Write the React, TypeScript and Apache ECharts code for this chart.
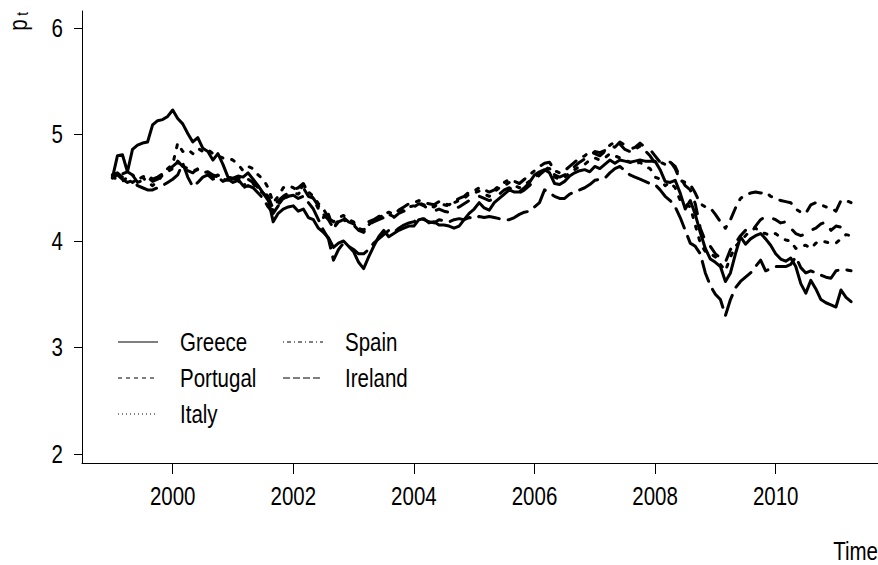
import { useEffect, useRef } from "react";
import * as echarts from "echarts";

const startYear = 1999;
const seriesNames = ["Greece", "Portugal", "Italy", "Spain", "Ireland"];
const xTicks = [2000, 2002, 2004, 2006, 2008, 2010];
const yTicks = [2, 3, 4, 5, 6];

// monthly values, Jan 1999 .. Apr 2011
const greece = [
  4.59, 4.80, 4.81, 4.65, 4.86, 4.90, 4.92, 4.93, 5.09, 5.13, 5.14, 5.17,
  5.23, 5.15, 5.10, 5.01, 4.93, 4.97, 4.87, 4.84, 4.76, 4.82, 4.72, 4.60,
  4.59, 4.61, 4.60, 4.64, 4.58, 4.52, 4.45, 4.40, 4.18, 4.26, 4.30, 4.32,
  4.33, 4.28, 4.30, 4.22, 4.20, 4.12, 4.08, 4.03, 3.94, 3.98, 4.00, 3.95,
  3.90, 3.80, 3.74, 3.85, 3.95, 4.04, 4.10, 4.04, 4.07, 4.10, 4.12, 4.14,
  4.14, 4.20, 4.21, 4.17, 4.18, 4.15, 4.15, 4.14, 4.12, 4.14, 4.20, 4.26,
  4.30, 4.36, 4.31, 4.29, 4.36, 4.40, 4.44, 4.48, 4.46, 4.46, 4.50, 4.55,
  4.62, 4.65, 4.67, 4.64, 4.54, 4.53, 4.56, 4.61, 4.64, 4.66, 4.67, 4.65,
  4.70, 4.68, 4.72, 4.76, 4.73, 4.76, 4.75, 4.74, 4.75, 4.76, 4.75, 4.75,
  4.75, 4.67, 4.56, 4.55, 4.57, 4.45, 4.30, 4.38, 4.25, 4.08, 3.93, 3.83,
  3.80, 3.76, 3.62, 3.70, 3.88, 4.04, 3.97, 4.02, 4.05, 4.07, 4.02, 3.96,
  3.88, 3.83, 3.81, 3.84, 3.76, 3.60, 3.51, 3.63, 3.55, 3.45, 3.42, 3.40,
  3.38, 3.54, 3.47, 3.43,
];

const portugal = [
  4.62, 4.64, 4.60, 4.58, 4.62, 4.55, 4.57, 4.60, 4.56, 4.58, 4.62, 4.66,
  4.70, 4.74, 4.68, 4.66, 4.64, 4.68, 4.65, 4.62, 4.60, 4.62, 4.58, 4.60,
  4.58, 4.60, 4.55, 4.58, 4.55, 4.50, 4.47, 4.42, 4.30, 4.38, 4.42, 4.45,
  4.48, 4.50, 4.54, 4.45, 4.40, 4.33, 4.22, 4.25, 4.12, 4.18, 4.20, 4.16,
  4.15, 4.10, 4.08, 4.15, 4.18, 4.20, 4.22, 4.24, 4.22, 4.26, 4.28, 4.30,
  4.32, 4.35, 4.33, 4.30, 4.28, 4.30, 4.28, 4.27, 4.30, 4.32, 4.35, 4.38,
  4.40, 4.42, 4.40, 4.38, 4.40, 4.44, 4.48, 4.50, 4.47, 4.45, 4.48, 4.52,
  4.57, 4.62, 4.66, 4.70, 4.62, 4.60, 4.62, 4.66, 4.70, 4.74, 4.77, 4.80,
  4.84, 4.83, 4.85, 4.90, 4.88, 4.93, 4.90, 4.86, 4.88, 4.92, 4.88, 4.86,
  4.80, 4.74, 4.72, 4.74, 4.70, 4.60, 4.52, 4.48, 4.35, 4.12, 4.00, 3.95,
  3.88, 3.84, 3.80, 3.92, 3.98, 4.05, 4.10, 4.08, 4.14, 4.20, 4.23, 4.22,
  4.20, 4.17, 4.18, 4.12, 4.07, 4.05, 4.07, 4.10, 4.12, 4.16, 4.18, 4.10,
  4.14, 4.13, 4.12, 4.12,
];

const italy = [
  4.60, 4.58, 4.56, 4.60, 4.55, 4.58, 4.60, 4.55, 4.52, 4.56, 4.62, 4.68,
  4.72, 4.92, 4.84, 4.86, 4.82, 4.87, 4.84, 4.86, 4.82, 4.80, 4.78, 4.78,
  4.76, 4.72, 4.66, 4.70, 4.68, 4.62, 4.58, 4.50, 4.36, 4.42, 4.50, 4.52,
  4.50, 4.47, 4.52, 4.46, 4.42, 4.35, 4.30, 4.22, 4.18, 4.22, 4.24, 4.20,
  4.18, 4.12, 4.10, 4.15, 4.20, 4.22, 4.24, 4.25, 4.23, 4.27, 4.30, 4.32,
  4.33, 4.36, 4.34, 4.33, 4.32, 4.35, 4.34, 4.33, 4.36, 4.38, 4.40, 4.44,
  4.45, 4.47, 4.44, 4.42, 4.46, 4.50, 4.52, 4.55, 4.52, 4.50, 4.53, 4.56,
  4.60, 4.63, 4.66, 4.68, 4.60, 4.58, 4.60, 4.64, 4.67, 4.70, 4.72, 4.76,
  4.78, 4.76, 4.78, 4.82, 4.80, 4.78, 4.76, 4.74, 4.72, 4.74, 4.70, 4.68,
  4.60, 4.58, 4.52, 4.55, 4.50, 4.38, 4.35, 4.32, 4.15, 3.98, 3.90, 3.88,
  3.85, 3.78, 3.72, 3.85, 3.95, 4.00, 4.05, 4.10, 4.12, 4.08, 4.07, 4.05,
  4.07, 4.03, 4.01, 4.00, 3.93, 3.95, 3.96, 3.93, 3.98, 4.00, 3.99, 3.98,
  3.98, 4.02, 4.06, 4.05,
];

const spain = [
  4.62, 4.60, 4.63, 4.65, 4.62, 4.58, 4.60, 4.62, 4.58, 4.60, 4.63, 4.65,
  4.68, 4.75, 4.70, 4.68, 4.66, 4.67, 4.64, 4.65, 4.62, 4.60, 4.58, 4.57,
  4.56, 4.58, 4.52, 4.55, 4.54, 4.48, 4.45, 4.38, 4.28, 4.34, 4.40, 4.42,
  4.45, 4.44, 4.50, 4.42, 4.40, 4.30, 4.25, 4.20, 4.12, 4.20, 4.22, 4.18,
  4.16, 4.12, 4.10, 4.18, 4.20, 4.23, 4.25, 4.27, 4.25, 4.29, 4.32, 4.35,
  4.36, 4.38, 4.36, 4.35, 4.34, 4.37, 4.35, 4.34, 4.37, 4.40, 4.42, 4.46,
  4.47, 4.50, 4.48, 4.46, 4.48, 4.52, 4.55, 4.58, 4.56, 4.54, 4.58, 4.62,
  4.66, 4.70, 4.73, 4.74, 4.66, 4.64, 4.66, 4.70, 4.74, 4.78, 4.80, 4.84,
  4.82, 4.80, 4.84, 4.90, 4.93, 4.91, 4.86, 4.84, 4.86, 4.89, 4.85, 4.80,
  4.73, 4.74, 4.72, 4.75, 4.68, 4.57, 4.55, 4.53, 4.45, 4.35, 4.32, 4.31,
  4.25, 4.18, 4.12, 4.20, 4.31, 4.40, 4.43, 4.45, 4.46, 4.45, 4.46, 4.42,
  4.40, 4.38, 4.37, 4.36, 4.30, 4.27, 4.26, 4.34, 4.36, 4.34, 4.32, 4.31,
  4.28, 4.38, 4.38, 4.36,
];

const ireland = [
  4.60, 4.62, 4.58, 4.55, 4.57, 4.52, 4.50, 4.48, 4.48, 4.50, 4.52, 4.55,
  4.58, 4.62, 4.73, 4.60, 4.51, 4.55, 4.60, 4.62, 4.58, 4.60, 4.56, 4.58,
  4.55, 4.57, 4.50, 4.52, 4.50, 4.45, 4.40, 4.32, 4.26, 4.33, 4.40, 4.42,
  4.43, 4.40, 4.42, 4.36, 4.30, 4.20, 4.10, 4.02, 3.82, 3.92, 3.98, 3.95,
  3.92, 3.88, 3.88, 3.92, 3.98, 4.02, 4.06, 4.10, 4.08, 4.12, 4.15, 4.17,
  4.18, 4.22, 4.20, 4.18, 4.17, 4.20, 4.19, 4.18, 4.20, 4.21, 4.20, 4.22,
  4.21, 4.23, 4.22, 4.23, 4.22, 4.21, 4.20, 4.20, 4.22, 4.25, 4.27, 4.28,
  4.32, 4.36, 4.48, 4.45, 4.42, 4.40, 4.40, 4.44, 4.46, 4.48, 4.50, 4.53,
  4.57, 4.58, 4.59, 4.64, 4.68, 4.70, 4.66, 4.62, 4.60, 4.58, 4.56, 4.54,
  4.53, 4.48, 4.42, 4.38, 4.32, 4.22, 4.10, 3.98, 3.95, 3.88, 3.70, 3.58,
  3.50, 3.45, 3.30, 3.45, 3.56, 3.62, 3.66, 3.70, 3.76, 3.82, 3.72, 3.74,
  3.76, 3.76, 3.76, 3.78, 3.85, 3.75, 3.70, 3.72, 3.70, 3.68, 3.66, 3.65,
  3.72, 3.73, 3.73, 3.72,
];

const allSeries = [greece, portugal, italy, spain, ireland];
const plotDash: (number[] | "solid")[] = ["solid", [12, 12], [3, 9], [3, 9, 12, 9], [21, 9]];
const legendDash: (number[] | null)[] = [null, [4, 4], [1, 3], [1, 3, 4, 3], [7, 3]];

const FONT = "'Liberation Sans', Arial, Helvetica, sans-serif";
const NARROW = 0.82;
const FS = 25;

export default function App() {
  const ref = useRef<HTMLDivElement>(null);

  useEffect(() => {
    if (!ref.current) return;
    const chart = echarts.init(ref.current, null, { renderer: "svg" });

    const yMin = 1.915;
    const yMax = 6.16;
    const xMin = 1998.496;
    const xMax = 2011.697;

    const series = allSeries.map((vals, k) => ({
      name: seriesNames[k],
      type: "line",
      data: vals.map((v, i) => [startYear + i / 12, v]),
      showSymbol: false,
      symbol: "none",
      silent: true,
      lineStyle: {
        color: "#000",
        width: 3,
        type: plotDash[k],
        cap: "round",
        join: "round",
      },
    }));

    chart.setOption({
      animation: false,
      backgroundColor: "#fff",
      grid: { left: 82, right: 0, top: 11, bottom: 102, containLabel: false },
      xAxis: {
        type: "value",
        min: xMin,
        max: xMax,
        axisLine: { show: true, onZero: false, lineStyle: { color: "#000", width: 1 } },
        axisTick: {
          show: true,
          length: 11,
          customValues: xTicks,
          lineStyle: { color: "#000", width: 1 },
        },
        axisLabel: { show: false },
        splitLine: { show: false },
      },
      yAxis: {
        type: "value",
        min: yMin,
        max: yMax,
        axisLine: { show: true, onZero: false, lineStyle: { color: "#000", width: 1 } },
        axisTick: {
          show: true,
          length: 8,
          customValues: yTicks,
          lineStyle: { color: "#000", width: 1 },
        },
        axisLabel: { show: false },
        splitLine: { show: false },
      },
      series,
    });

    const px = (v: number) => chart.convertToPixel({ xAxisIndex: 0 }, v) as number;
    const py = (v: number) => chart.convertToPixel({ yAxisIndex: 0 }, v) as number;
    const axisBottom = py(yMin);
    const axisLeft = px(xMin);

    const txt = (text: string, x: number, y: number, align: string, extra: any = {}, fs = FS) => ({
      type: "text",
      x,
      y,
      scaleX: NARROW,
      silent: true,
      style: {
        text,
        fontSize: fs,
        fontFamily: FONT,
        fill: "#000",
        align,
        verticalAlign: "middle",
      },
      ...extra,
    });

    const els: any[] = [];
    // x tick labels
    xTicks.forEach((v) => els.push(txt(String(v), px(v), axisBottom + 33, "center")));
    // y tick labels
    yTicks.forEach((v) => els.push(txt(String(v), axisLeft - 19, py(v), "right")));

    // legend (drawn as in the reference)
    const legendPos = [
      { x: 118, y: 342 },
      { x: 118, y: 378 },
      { x: 118, y: 414 },
      { x: 283, y: 342 },
      { x: 283, y: 378 },
    ];
    seriesNames.forEach((name, k) => {
      const p = legendPos[k];
      els.push({
        type: "line",
        shape: { x1: p.x, y1: p.y, x2: p.x + 40, y2: p.y },
        style: {
          stroke: "#000",
          lineWidth: 1,
          lineDash: legendDash[k] || undefined,
        },
        silent: true,
      });
      els.push(txt(name, p.x + 62, p.y, "left"));
    });

    // axis titles
    els.push(txt("Time", 878, 551, "right"));
    // y title: p with subscript t, rotated to read upward
    els.push(txt("p", 18, 25, "center", { rotation: Math.PI / 2 }, 25));
    els.push(txt("t", 23, 14, "center", { rotation: Math.PI / 2 }, 16));

    chart.setOption({ graphic: els });

    return () => chart.dispose();
  }, []);

  return (
    <div
      ref={ref}
      style={{ position: "fixed", left: 0, top: 0, width: 878, height: 565, background: "#fff" }}
    />
  );
}
